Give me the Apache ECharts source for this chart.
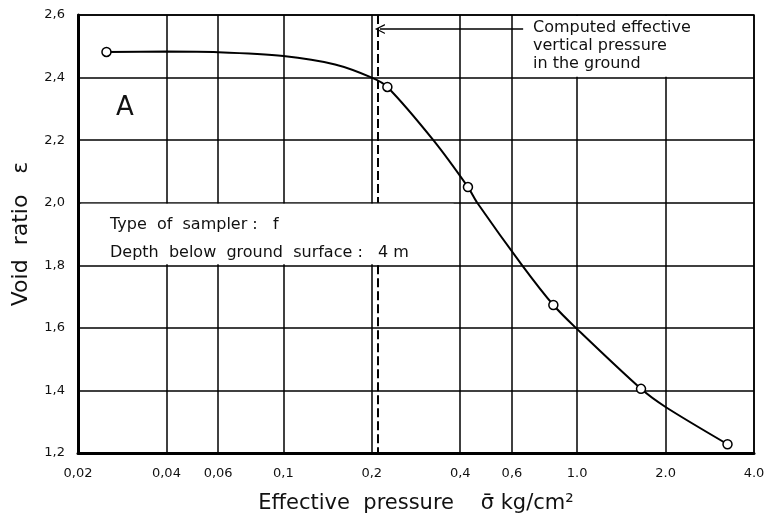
<!DOCTYPE html>
<html>
<head>
<meta charset="utf-8">
<script src="https://cdn.jsdelivr.net/npm/echarts@6/dist/echarts.min.js"></script>
<style>
html, body { margin: 0; background: #fff; }
#chart { width: 768px; height: 523px; }
</style>
</head>
<body>
<div id="chart"></div>
<script>
// x ticks (log axis) and their printed labels
var pressureTicks = [0.02, 0.04, 0.06, 0.1, 0.2, 0.4, 0.6, 1.0, 2.0, 4.0];
var pressureLabels = ['0,02', '0,04', '0,06', '0,1', '0,2', '0,4', '0,6', '1.0', '2.0', '4.0'];

// measured points (open circles)
var testPressure = [0.025, 0.226, 0.425, 0.83, 1.65, 3.25];
var testRatio = [2.482, 2.37, 2.05, 1.673, 1.405, 1.228];

// drawn curve
var curvePressure = [0.025, 0.04, 0.06, 0.1, 0.15, 0.2, 0.226, 0.324, 0.425, 0.457, 0.65, 0.83, 0.99, 1.65, 2.0, 3.25];
var curveRatio = [2.482, 2.483, 2.481, 2.469, 2.442, 2.40, 2.37, 2.2, 2.05, 2.0, 1.8, 1.673, 1.6, 1.405, 1.347, 1.228];

// computed effective vertical pressure in the ground
var groundPressure = 0.21;
var arrowRatio = 2.555;
var arrowEnd = 0.655;

var lettering = '"DejaVu Sans", sans-serif';

var myChart = echarts.init(document.getElementById('chart'));

function pairs(xs, ys) {
    var out = [];
    for (var i = 0; i < xs.length; i++) out.push([xs[i], ys[i]]);
    return out;
}

var option = {
    animation: false,
    backgroundColor: '#fff',
    textStyle: { fontFamily: lettering, color: '#000' },
    grid: {
        left: 78, right: 14, top: 15, bottom: 70,
        outerBoundsMode: 'none',
        containLabel: false,
        show: true, borderColor: '#000', borderWidth: 1.5
    },
    xAxis: {
        type: 'log',
        logBase: 10,
        min: 0.02,
        max: 4,
        name: 'Effective  pressure    σ̄ kg/cm²',
        nameLocation: 'middle',
        nameGap: 40,
        nameTextStyle: { fontSize: 21, fontFamily: lettering, color: '#111' },
        axisLine: { lineStyle: { color: '#000', width: 3 } },
        axisTick: { show: true, length: 0, customValues: pressureTicks },
        axisLabel: {
            customValues: pressureTicks,
            fontSize: 13,
            color: '#111',
            margin: 14,
            formatter: function (v) {
                for (var i = 0; i < pressureTicks.length; i++) {
                    if (Math.abs(pressureTicks[i] - v) / v < 1e-3) return pressureLabels[i];
                }
                return '';
            }
        },
        splitLine: { show: true, lineStyle: { color: '#000', width: 1.5 } }
    },
    yAxis: {
        type: 'value',
        min: 1.2,
        max: 2.6,
        interval: 0.2,
        name: 'Void  ratio   ε',
        nameLocation: 'middle',
        nameRotate: 90,
        nameGap: 46,
        nameTextStyle: { fontSize: 22, fontFamily: lettering, color: '#111' },
        axisLine: { show: true, lineStyle: { color: '#000', width: 3 } },
        axisTick: { show: false },
        axisLabel: {
            fontSize: 13,
            color: '#111',
            margin: 13,
            formatter: function (v) { return v.toFixed(1).replace('.', ','); }
        },
        splitLine: { show: true, lineStyle: { color: '#000', width: 1.5 } }
    },
    series: [
        {
            name: 'curve',
            type: 'line',
            data: pairs(curvePressure, curveRatio),
            smooth: 0.3,
            showSymbol: false,
            lineStyle: { color: '#000', width: 2 },
            markArea: {
                silent: true,
                itemStyle: { color: '#fff' },
                data: [
                    [{ coord: [0.0205, 1.997] }, { coord: [0.38, 1.803] }],
                    [{ coord: [arrowEnd, 2.597] }, { coord: [3.95, 2.403] }]
                ]
            },
            markLine: {
                silent: true,
                symbol: ['none', 'none'],
                label: { show: false },
                lineStyle: { color: '#000', width: 2, type: [9, 4] },
                data: [
                    [{ coord: [groundPressure, 2.6] }, { coord: [groundPressure, 2.0] }],
                    [{ coord: [groundPressure, 1.8] }, { coord: [groundPressure, 1.2] }],
                    [
                        { coord: [groundPressure * 1.015, arrowRatio], symbol: 'path://M0,10 L5,0 L10,10 L8.6,10 L5,2.6 L1.4,10 Z', symbolSize: [10, 10] },
                        { coord: [arrowEnd, arrowRatio], symbol: 'none', lineStyle: { type: 'solid', width: 1.5 } }
                    ]
                ]
            },
            z: 3
        },
        {
            name: 'measured',
            type: 'scatter',
            data: pairs(testPressure, testRatio),
            symbol: 'circle',
            symbolSize: 9,
            itemStyle: { color: '#fff', borderColor: '#000', borderWidth: 1.5, opacity: 1 },
            z: 4
        }
    ],
    graphic: [
        {
            type: 'text', left: 116, top: 95, z: 10,
            style: { text: 'A', fontSize: 26, fontFamily: lettering, fill: '#111' }
        },
        {
            type: 'text', left: 110, top: 211, z: 10,
            style: {
                text: 'Type  of  sampler :   f\nDepth  below  ground  surface :   4 m',
                fontSize: 16, lineHeight: 28, fontFamily: lettering, fill: '#111'
            }
        },
        {
            type: 'text', left: 533, top: 19, z: 10,
            style: {
                text: 'Computed effective\nvertical pressure\nin the ground',
                fontSize: 16, lineHeight: 18, fontFamily: lettering, fill: '#111'
            }
        }
    ]
};

myChart.setOption(option);
</script>
</body>
</html>
